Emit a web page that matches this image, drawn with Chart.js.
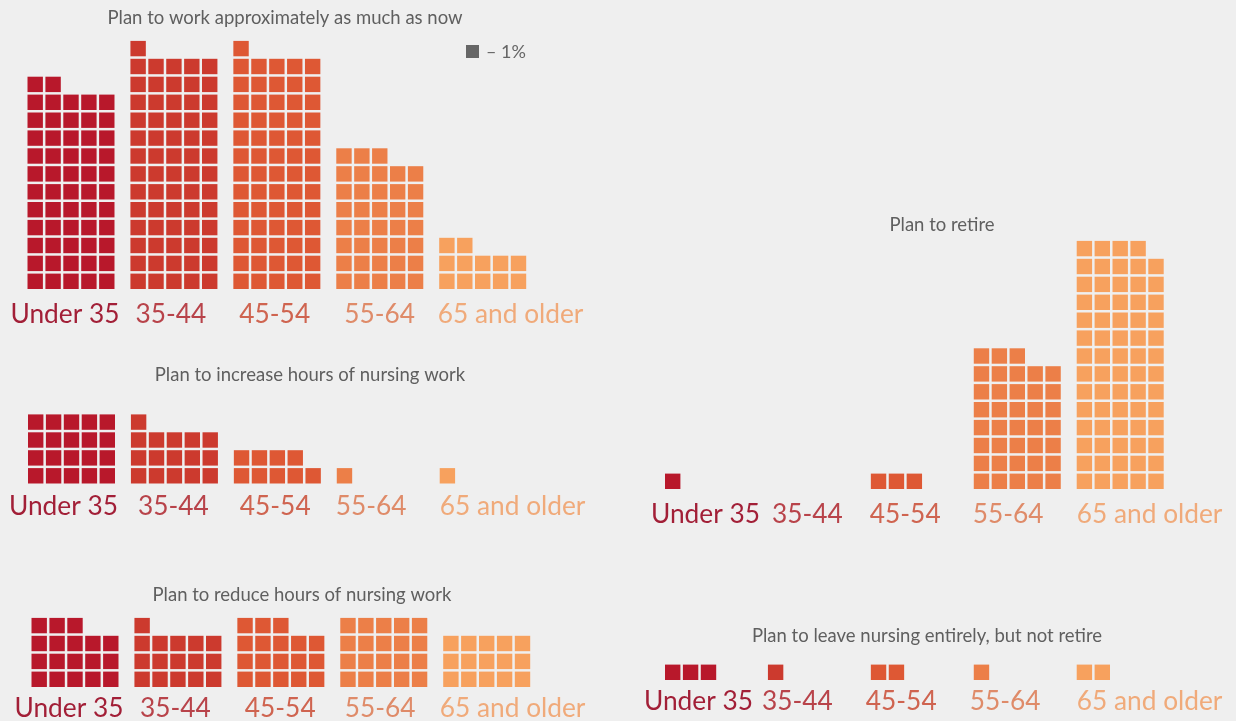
<!DOCTYPE html>
<html>
<head>
<meta charset="utf-8">
<script src="https://cdn.jsdelivr.net/npm/chart.js@4.4.1/dist/chart.umd.min.js"></script>
<style>
html, body { margin: 0; padding: 0; background: #efefef; }
#wrap { position: relative; width: 1236px; height: 721px; overflow: hidden; }
#wrap canvas { position: absolute; left: 0; top: 0; }
</style>
</head>
<body>
<div id="wrap">
  <canvas id="work" width="1236" height="721"></canvas>
  <canvas id="increase" width="1236" height="721"></canvas>
  <canvas id="reduce" width="1236" height="721"></canvas>
  <canvas id="retire" width="1236" height="721"></canvas>
  <canvas id="leave" width="1236" height="721"></canvas>
</div>
<script>
// one square = 1% of the age group
var ageGroups = ["Under 35", "35-44", "45-54", "55-64", "65 and older"];
var workSame = [57, 66, 66, 38, 12];
var increaseHours = [20, 16, 9, 1, 1];
var reduceHours = [18, 16, 18, 20, 15];
var retire = [1, 0, 3, 38, 69];
var leaveNursing = [3, 1, 2, 1, 2];

var squareColors = ["#b8182b", "#cc3a2e", "#de5834", "#ec7f48", "#f7a15e"];
var labelColors = ["#a21f37", "#b8434a", "#cf6450", "#df8b69", "#f0aa7a"];

var W = 1236, H = 721;
var PITCH = 17.9;     // px per square
var SQUARE = 15.4;    // px side of a square
var COLS = 5;
var GROUP = 5.75;     // group spacing in squares
var FONT = "Lato, 'Open Sans', sans-serif";

function waffle(id, title, values, layout) {
  var datasets = ageGroups.map(function(name, g) {
    var pts = [];
    for (var k = 0; k < values[g]; k++) {
      pts.push({ x: g * GROUP + (k % COLS), y: Math.floor(k / COLS) });
    }
    return {
      label: name,
      data: pts,
      backgroundColor: squareColors[g],
      pointStyle: "rect",
      pointRadius: SQUARE / Math.SQRT2,
      pointBorderWidth: 0,
      clip: false
    };
  });

  var textPlugin = {
    id: "texts",
    afterDraw: function(chart) {
      var ctx = chart.ctx, xs = chart.scales.x;
      ctx.save();
      // panel title
      ctx.font = "18.5px " + FONT;
      ctx.fillStyle = "#5f5f5f";
      ctx.textAlign = "center";
      ctx.textBaseline = "middle";
      ctx.fillText(title, layout.titleX, layout.titleY);
      // age group labels under the squares
      ctx.font = "26.3px " + FONT;
      ctx.textAlign = "left";
      ctx.textBaseline = "alphabetic";
      ageGroups.forEach(function(name, g) {
        var x = xs.getPixelForValue(g * GROUP) - SQUARE / 2 + layout.labelShift[g];
        ctx.fillStyle = labelColors[g];
        ctx.fillText(name, x, layout.labelY);
      });
      if (layout.legend) {
        ctx.fillStyle = "#666666";
        ctx.fillRect(466, 45, 13, 13);
        ctx.font = "18px " + FONT;
        ctx.textBaseline = "middle";
        ctx.fillText("\u2013 1%", 486, 52);
      }
      ctx.restore();
    }
  };

  return new Chart(document.getElementById(id), {
    type: "scatter",
    data: { datasets: datasets },
    options: {
      responsive: false,
      animation: false,
      events: [],
      layout: { padding: 0, autoPadding: false },
      plugins: { legend: { display: false }, tooltip: { enabled: false } },
      scales: {
        x: { type: "linear", display: false, min: -layout.ax / PITCH, max: (W - layout.ax) / PITCH },
        y: { type: "linear", display: false, min: -(H - layout.ay) / PITCH, max: layout.ay / PITCH }
      }
    },
    plugins: [textPlugin]
  });
}

waffle("work", "Plan to work approximately as much as now", workSame,
  { ax: 35.2, ay: 281.3, titleX: 285, titleY: 18, labelY: 323, labelShift: [-17, 5, 6, 8, -1.5], legend: true });
waffle("increase", "Plan to increase hours of nursing work", increaseHours,
  { ax: 35.7, ay: 475.8, titleX: 310, titleY: 375, labelY: 515, labelShift: [-19, 7, 6, -1, 0] });
waffle("reduce", "Plan to reduce hours of nursing work", reduceHours,
  { ax: 39.2, ay: 679.3, titleX: 302, titleY: 595, labelY: 717, labelShift: [-17, 5.5, 7.5, 4.5, -3.5] });
waffle("retire", "Plan to retire", retire,
  { ax: 672.7, ay: 481.3, titleX: 942, titleY: 225, labelY: 523, labelShift: [-14, 4, -1, -1, 0] });
waffle("leave", "Plan to leave nursing entirely, but not retire", leaveNursing,
  { ax: 672.7, ay: 672.3, titleX: 927, titleY: 636, labelY: 710, labelShift: [-21, -6, -5, -4, 0] });
</script>
</body>
</html>
